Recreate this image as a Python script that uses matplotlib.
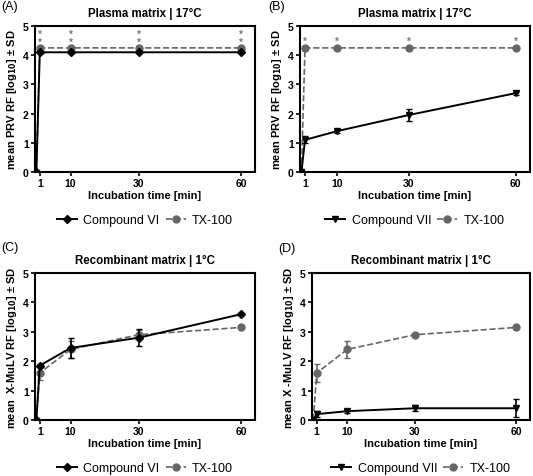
import numpy as np
import matplotlib
matplotlib.use("Agg")
import matplotlib.pyplot as plt
from matplotlib.lines import Line2D

plt.rcParams['font.family'] = ['Liberation Sans', 'DejaVu Sans']

time = [0, 1, 10, 30, 60]
xticks = [1, 10, 30, 60]

# (A) plasma, compound VI
a_cmp = [0, 4.1, 4.1, 4.1, 4.1]
a_cmp_sd = [0, 0.03, 0.03, 0.03, 0.03]
a_tx = [0, 4.25, 4.25, 4.25, 4.25]
a_tx_sd = [0, 0.03, 0.03, 0.03, 0.03]
# (B) plasma, compound VII
b_cmp = [0, 1.1, 1.4, 1.95, 2.7]
b_cmp_sd = [0, 0.12, 0.05, 0.2, 0.05]
b_tx = [0, 4.25, 4.25, 4.25, 4.25]
b_tx_sd = [0, 0.03, 0.03, 0.03, 0.03]
# (C) recombinant, compound VI
c_cmp = [0, 1.85, 2.45, 2.8, 3.6]
c_cmp_sd = [0, 0.05, 0.35, 0.28, 0.03]
c_tx = [0, 1.6, 2.4, 2.9, 3.15]
c_tx_sd = [0, 0.25, 0.3, 0.15, 0.03]
# (D) recombinant, compound VII
d_cmp = [0, 0.2, 0.3, 0.4, 0.4]
d_cmp_sd = [0, 0.1, 0.05, 0.1, 0.3]
d_tx = [0, 1.6, 2.4, 2.9, 3.15]
d_tx_sd = [0, 0.3, 0.3, 0.05, 0.05]

fig = plt.figure(figsize=(5.33, 4.77), dpi=100)
W, H = 533, 477

def add_ax(l, t, r, b):
    return fig.add_axes([l / W, 1 - b / H, (r - l) / W, (b - t) / H])

panels = [
    ("(A)", (1, 7), "Plasma matrix | 17°C", "mean PRV RF [log$_{\\mathbf{10}}$] ± SD",
     a_cmp, a_cmp_sd, a_tx, a_tx_sd, "Compound VI", "D", 2, (35, 27, 255, 173)),
    ("(B)", (268, 7), "Plasma matrix | 17°C", "mean PRV RF [log$_{\\mathbf{10}}$] ± SD",
     b_cmp, b_cmp_sd, b_tx, b_tx_sd, "Compound VII", "v", 1, (300, 27, 530, 173)),
    ("(C)", (1, 248), "Recombinant matrix | 1°C", "mean  X-MuLV RF [log$_{\\mathbf{10}}$] ± SD",
     c_cmp, c_cmp_sd, c_tx, c_tx_sd, "Compound VI", "D", 0, (35, 274, 255, 421)),
    ("(D)", (278, 249), "Recombinant matrix | 1°C", "mean X -MuLV RF [log$_{\\mathbf{10}}$] ± SD",
     d_cmp, d_cmp_sd, d_tx, d_tx_sd, "Compound VII", "v", 0, (312, 274, 530, 421)),
]

for tag, tpos, title, ylab, cmp, cmp_sd, tx, tx_sd, cname, mk, nstar, box in panels:
    ax = add_ax(*box)
    ax.errorbar(time, cmp, yerr=cmp_sd, color='black', lw=1.4, marker=mk,
                ms=4.5, capsize=2.5, elinewidth=1.2, zorder=3)
    ax.errorbar(time, tx, yerr=tx_sd, color='#666666', lw=1.2, ls='--',
                marker='o', ms=5, capsize=2.5, elinewidth=1.2, zorder=2)
    if nstar:
        ystar = 4.5 if nstar == 1 else 4.58
        for xs in xticks:
            ax.text(xs, ystar, '\n'.join(['*'] * nstar), color='#777777', ha='center',
                    va='center', fontsize=7, fontweight='bold', linespacing=0.75)
    ax.set_xlim(-0.4, 64)
    ax.set_ylim(0, 5)
    ax.set_xticks(xticks)
    ax.set_yticks(range(6))
    for s in ax.spines.values():
        s.set_linewidth(1.5)
    ax.tick_params(labelsize=7.5, width=1.2, length=3, pad=1.5)
    for lab in ax.get_xticklabels() + ax.get_yticklabels():
        lab.set_fontweight('bold')
    ax.set_xlabel('Incubation time [min]', fontsize=8, fontweight='bold', labelpad=1)
    ax.set_ylabel(ylab, fontsize=8, fontweight='bold', labelpad=3)
    ax.set_title(title, fontsize=8.3, fontweight='bold', pad=7)
    fig.text(tpos[0] / W, 1 - tpos[1] / H, tag, fontsize=9, ha='left', va='center')
    h1 = Line2D([], [], color='black', lw=1.4, marker=mk, ms=4.5)
    h2 = Line2D([], [], color='#666666', lw=1.2, ls='--', marker='o', ms=5)
    ax.legend(handles=[h1, h2], labels=[cname, 'TX-100'], loc='upper center',
              bbox_to_anchor=(0.5, -0.21), ncol=2, frameon=False, fontsize=9,
              handlelength=1.6, columnspacing=0.5, handletextpad=0.5)

fig.savefig('out.png', dpi=100)
